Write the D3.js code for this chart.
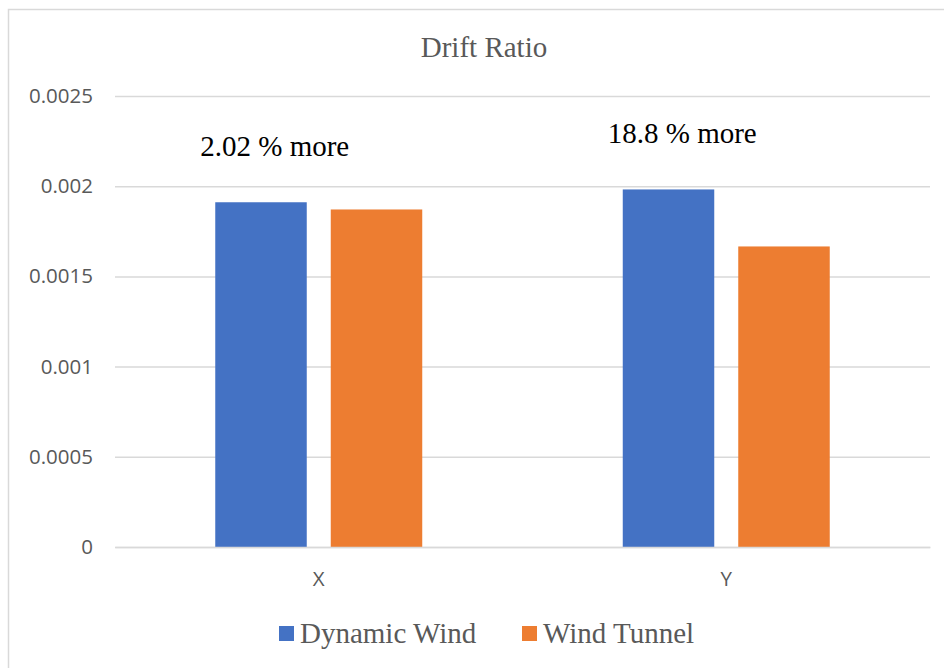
<!DOCTYPE html>
<html>
<head>
<meta charset="utf-8">
<script src="https://cdn.jsdelivr.net/npm/d3@7"></script>
<style>
  html, body { margin: 0; padding: 0; background: #fff; }
  svg { display: block; }
</style>
</head>
<body>
<svg id="chart" width="944" height="668"></svg>
<script>
const title = "Drift Ratio";
const categories = ["X", "Y"];
const seriesNames = ["Dynamic Wind", "Wind Tunnel"];
const dynamicWind = [0.001911, 0.001982];
const windTunnel = [0.001871, 0.001666];
const annotations = ["2.02 % more", "18.8 % more"];
const yTickValues = [0, 0.0005, 0.001, 0.0015, 0.002, 0.0025];
const yTickLabels = ["0", "0.0005", "0.001", "0.0015", "0.002", "0.0025"];
const colors = ["#4472C4", "#ED7D31"];

const seriesValues = [dynamicWind, windTunnel];
const data = categories.map((c, i) => ({
  cat: c,
  values: seriesNames.map((s, j) => ({ series: s, value: seriesValues[j][i], idx: j }))
}));

const svg = d3.select("#chart");
const W = 944, H = 668;

// chart frame
svg.append("rect")
  .attr("x", 8.5).attr("y", 9.5)
  .attr("width", W + 10).attr("height", H + 10)
  .attr("fill", "#fff").attr("stroke", "#d9d9d9").attr("stroke-width", 1.5);

const plotLeft = 115, plotRight = 930, plotTop = 96, plotBottom = 547;

const x0 = d3.scaleBand().domain(categories).range([plotLeft, plotRight]).paddingInner(0).paddingOuter(0);
const x1 = d3.scaleBand().domain(seriesNames).range([0, x0.bandwidth()]).paddingInner(0.2078).paddingOuter(0.868);
const y = d3.scaleLinear().domain([0, 0.0025]).range([plotBottom, plotTop]);

// gridlines + y labels
const yAxis = d3.axisLeft(y)
  .tickValues(yTickValues)
  .tickFormat((d, i) => yTickLabels[i])
  .tickSize(-(plotRight - plotLeft))
  .tickPadding(22);
const gy = svg.append("g").attr("transform", `translate(${plotLeft},0)`).call(yAxis);
gy.select(".domain").remove();
gy.selectAll(".tick line").attr("stroke", "#d9d9d9").attr("stroke-width", 1.5);
gy.selectAll(".tick text")
  .attr("fill", "#595959")
  .style("font-family", "'Open Sans', sans-serif")
  .style("font-size", "20.5px");

// bars
const groups = svg.append("g").selectAll("g").data(data).join("g")
  .attr("transform", d => `translate(${x0(d.cat)},0)`);
groups.selectAll("rect").data(d => d.values).join("rect")
  .attr("x", d => x1(d.series))
  .attr("width", x1.bandwidth())
  .attr("y", d => y(d.value))
  .attr("height", d => y(0) - y(d.value))
  .attr("fill", d => colors[d.idx]);

// x axis
const xAxis = d3.axisBottom(x0).tickSize(0).tickPadding(24);
const gx = svg.append("g").attr("transform", `translate(0,${plotBottom})`).call(xAxis);
gx.select(".domain").attr("stroke", "#d9d9d9").attr("stroke-width", 1.5);
gx.selectAll(".tick text")
  .attr("fill", "#595959")
  .style("font-family", "'Open Sans', sans-serif")
  .style("font-size", "20.5px");

// annotations
svg.append("g").selectAll("text").data(data).join("text")
  .attr("x", d => x0(d.cat) + x0.bandwidth() / 2 - 44)
  .attr("y", d => y(d3.max(d.values, v => v.value)) - 46.5)
  .attr("text-anchor", "middle")
  .attr("fill", "#000")
  .style("font-family", "'Liberation Serif', 'Times New Roman', serif")
  .style("font-size", "29px")
  .text((d, i) => annotations[i]);

// title
svg.append("text")
  .attr("x", 484).attr("y", 57)
  .attr("text-anchor", "middle")
  .attr("fill", "#595959")
  .style("font-family", "'Liberation Serif', 'Times New Roman', serif")
  .style("font-size", "29px")
  .text(title);

// legend
const legendX = [279, 522];
const leg = svg.append("g").selectAll("g").data(seriesNames).join("g")
  .attr("transform", (d, i) => `translate(${legendX[i]},626)`);
leg.append("rect").attr("width", 15).attr("height", 15).attr("fill", (d, i) => colors[i]);
leg.append("text")
  .attr("x", 21).attr("y", 17.3)
  .attr("fill", "#595959")
  .style("font-family", "'Liberation Serif', 'Times New Roman', serif")
  .style("font-size", "29px")
  .text(d => d);
</script>
</body>
</html>
